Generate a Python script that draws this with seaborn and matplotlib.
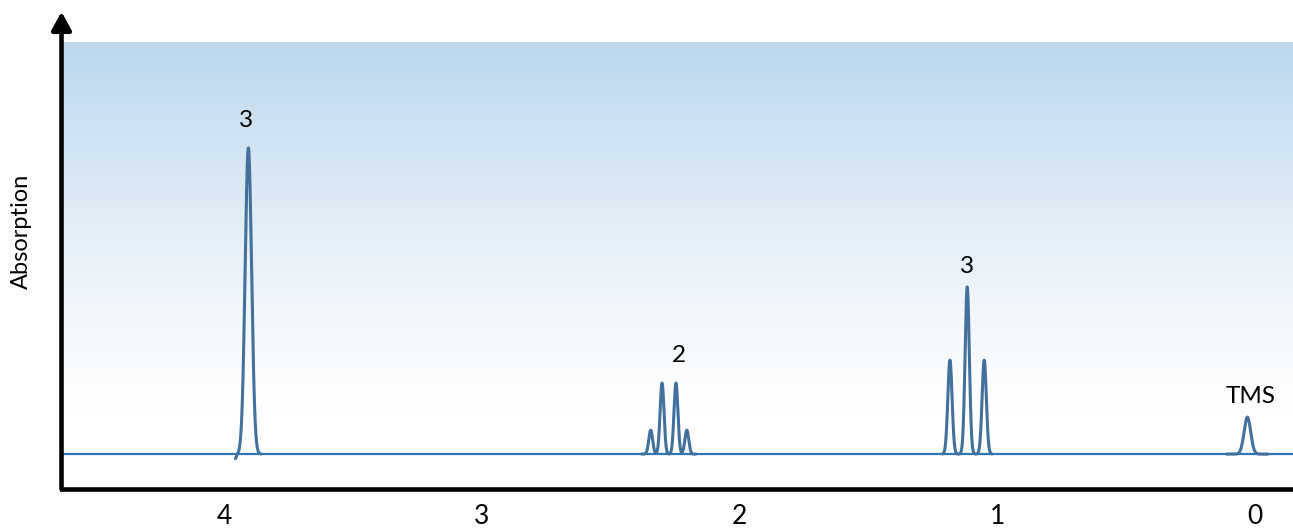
import numpy as np
import pandas as pd
import matplotlib
matplotlib.use("Agg")
import matplotlib.pyplot as plt
from matplotlib.colors import LinearSegmentedColormap
import seaborn as sns

# --- peak data (ppm, relative height) ---
singlet_ppm = [3.906]
singlet_height = [1.0]
quartet_ppm = [2.345, 2.301, 2.247, 2.205]
quartet_height = [0.078, 0.232, 0.232, 0.078]
triplet_ppm = [1.184, 1.117, 1.051]
triplet_height = [0.307, 0.546, 0.307]
tms_ppm = [0.030]
tms_height = [0.121]
# small phase dip on the left foot of the singlet
dip_ppm = [3.962]
dip_height = [-0.022]

peak_labels = ["3", "2", "3", "TMS"]
tick_values = [4, 3, 2, 1, 0]
tick_labels = ["4", "3", "2", "1", "0"]


def gauss(x, centers, heights, sigma):
    y = np.zeros_like(x)
    for c, h in zip(centers, heights):
        y += h * np.exp(-0.5 * ((x - c) / sigma) ** 2)
    return y


# build the curve segments (one per multiplet)
groups = [
    ("singlet", singlet_ppm, singlet_height, 0.0125, 0.05),
    ("quartet", quartet_ppm, quartet_height, 0.0075, 0.035),
    ("triplet", triplet_ppm, triplet_height, 0.0082, 0.03),
    ("tms", tms_ppm, tms_height, 0.0128, 0.08),
]
frames = []
for name, cs, hs, sig, margin in groups:
    x = np.linspace(max(cs) + margin, min(cs) - margin, 600)
    y = gauss(x, cs, hs, sig)
    if name == "singlet":
        y += gauss(x, dip_ppm, dip_height, 0.007)
    frames.append(pd.DataFrame({"ppm": x, "absorption": y, "group": name}))
spec = pd.concat(frames, ignore_index=True)

sns.set_theme(style="white")
plt.rcParams["font.family"] = ["Lato", "DejaVu Sans"]

fig = plt.figure(figsize=(12.93, 5.28), dpi=100)
ax = fig.add_axes([61.5 / 1293, 39 / 528, 1 - 61.5 / 1293, (489 - 11.7) / 528])

x_left, x_right = 4.631, -0.147
y_bottom, y_top = -0.114, 1.445
ax.set_xlim(x_left, x_right)
ax.set_ylim(y_bottom, y_top)

# background gradient (light blue at top fading to white)
cmap = LinearSegmentedColormap.from_list("bg", ["#ffffff", "#bdd7ec"])
yy = np.linspace(y_bottom, 1.345, 300)
grad = np.clip((yy - 0.12) / (1.345 - 0.12), 0, 1)[:, None] ** 1.25
ax.imshow(grad, extent=[x_left, x_right, y_bottom, 1.345], origin="lower",
          aspect="auto", cmap=cmap, vmin=0, vmax=1, zorder=0)

# baseline
ax.axhline(0, color="#2e75b6", lw=1.6, zorder=2)

sns.lineplot(data=spec, x="ppm", y="absorption", units="group", estimator=None,
             sort=False, color="#41719c", lw=2.2, ax=ax, zorder=3)

# peak labels
label_pos = [
    (singlet_ppm[0], max(singlet_height), -2, 20),
    (np.mean(quartet_ppm), max(quartet_height), 7, 20),
    (triplet_ppm[1], max(triplet_height), 0, 15),
    (tms_ppm[0], max(tms_height), 2, 14.6),
]
for txt, (px, py, dx, dy) in zip(peak_labels, label_pos):
    ax.annotate(txt, xy=(px, py), xytext=(dx, dy), textcoords="offset points",
                ha="center", va="center", fontsize=17.5, color="black")

# axes styling
ax.set_xticks(tick_values)
ax.set_xticklabels(tick_labels, fontsize=19, color="black")
ax.set_yticks([])
ax.tick_params(axis="x", length=0, pad=11)
ax.set_xlabel("")
ax.set_ylabel("")
for side in ["top", "right", "left"]:
    ax.spines[side].set_visible(False)
ax.spines["bottom"].set_color("black")
ax.spines["bottom"].set_linewidth(3.3)
ax.spines["bottom"].set_capstyle("projecting")

# vertical arrow axis
ax.annotate("", xy=(0, 1), xytext=(0, 0), xycoords="axes fraction",
            textcoords="axes fraction",
            arrowprops=dict(arrowstyle="-|>,head_length=0.55,head_width=0.3",
                            mutation_scale=20, lw=3.3, color="black",
                            shrinkA=0, shrinkB=0),
            annotation_clip=False, zorder=5)

fig.text(21 / 1293, 1 - 231 / 528, "Absorption", rotation=90, ha="center",
         va="center", fontsize=17, color="black")

fig.savefig("out.png", dpi=100)
